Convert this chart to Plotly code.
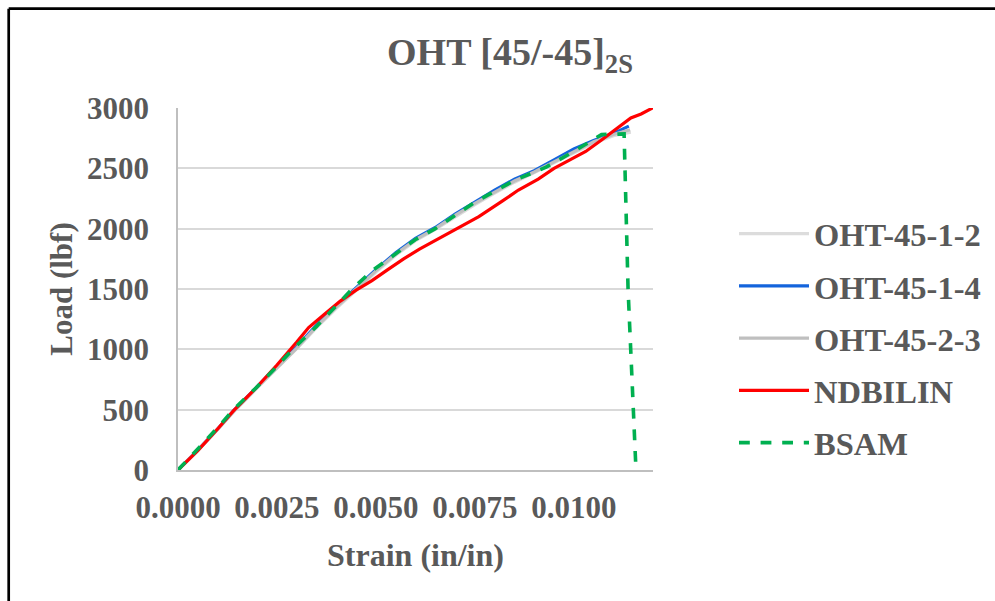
import plotly.graph_objects as go

# ---- data ----
strain_1_2 = [0, 0.0005, 0.0010, 0.0014, 0.0020, 0.0025, 0.0030, 0.0035, 0.0040, 0.0045, 0.0050,
              0.0055, 0.0060, 0.0065, 0.0070, 0.0075, 0.0080, 0.0085, 0.0090, 0.0095, 0.0100,
              0.0105, 0.0110, 0.01144]
load_1_2 = [0, 160, 335, 480, 680, 845, 1005, 1180, 1340, 1490, 1640,
            1780, 1900, 1995, 2100, 2200, 2295, 2385, 2465, 2545, 2630,
            2710, 2770, 2800]

strain_1_4 = [0, 0.0005, 0.0010, 0.0014, 0.0020, 0.0025, 0.0030, 0.0035, 0.0040, 0.0045, 0.0050,
              0.0055, 0.0060, 0.0065, 0.0070, 0.0075, 0.0080, 0.0085, 0.0090, 0.0095, 0.0100,
              0.0105, 0.0110, 0.01139]
load_1_4 = [0, 165, 340, 490, 690, 860, 1020, 1200, 1360, 1510, 1660,
            1800, 1920, 2010, 2120, 2220, 2320, 2410, 2480, 2570, 2660,
            2730, 2790, 2850]

strain_2_3 = [0, 0.0005, 0.0010, 0.0014, 0.0020, 0.0025, 0.0030, 0.0035, 0.0040, 0.0045, 0.0050,
              0.0055, 0.0060, 0.0065, 0.0070, 0.0075, 0.0080, 0.0085, 0.0090, 0.0095, 0.0100,
              0.0105, 0.0110, 0.01142]
load_2_3 = [0, 162, 338, 485, 685, 850, 1010, 1190, 1350, 1500, 1650,
            1790, 1910, 2000, 2110, 2210, 2305, 2395, 2470, 2555, 2640,
            2720, 2780, 2820]

strain_ndbilin = [0, 0.0005, 0.0010, 0.0014, 0.0020, 0.0025, 0.0030, 0.0033, 0.0037, 0.0041,
                  0.0045, 0.0049, 0.0053, 0.0057, 0.0061, 0.0066, 0.0071, 0.0076, 0.0082,
                  0.0086, 0.0091, 0.0095, 0.0099, 0.0103, 0.0107, 0.0111, 0.01144, 0.0117, 0.0121]
load_ndbilin = [0, 160, 340, 490, 690, 870, 1060, 1180, 1290, 1400,
                1490, 1570, 1660, 1750, 1830, 1920, 2010, 2100, 2230,
                2320, 2410, 2500, 2570, 2640, 2735, 2830, 2917, 2950, 3020]

strain_bsam = [0, 0.0005, 0.0010, 0.0014, 0.0020, 0.0025, 0.0029, 0.0035, 0.0040, 0.0044,
               0.0049, 0.0056, 0.0060, 0.0065, 0.0070, 0.0075, 0.0080, 0.0085, 0.0093,
               0.0100, 0.0107, 0.0112, 0.01127, 0.01137, 0.01157]
load_bsam = [0, 170, 350, 500, 690, 860, 1000, 1190, 1360, 1500,
             1650, 1820, 1910, 2000, 2110, 2220, 2310, 2400, 2510,
             2640, 2780, 2790, 2785, 1500, 0]

x_tickvals = [0, 0.0025, 0.005, 0.0075, 0.01]
x_ticktext = ["0.0000", "0.0025", "0.0050", "0.0075", "0.0100"]
y_tickvals = [0, 500, 1000, 1500, 2000, 2500, 3000]

series = [
    ("OHT-45-1-2", strain_1_2, load_1_2, "#dcdcdc", "solid"),
    ("OHT-45-1-4", strain_1_4, load_1_4, "#1464dc", "solid"),
    ("OHT-45-2-3", strain_2_3, load_2_3, "#bfbfbf", "solid"),
    ("NDBILIN", strain_ndbilin, load_ndbilin, "#ff0000", "solid"),
    ("BSAM", strain_bsam, load_bsam, "#00b050", "dash"),
]

FONT = "Liberation Serif, Times New Roman, serif"
TXT = "#595959"

fig = go.Figure()
for i, (name, xs, ys, col, dash) in enumerate(series):
    fig.add_trace(go.Scatter(
        x=xs, y=ys, mode="lines", name=name, legendgroup=f"g{i}",
        line=dict(color=col, width=3.2 if dash == "solid" else 3.6, dash=dash),
    ))

L, T, W, H = 178, 108, 475, 362
fig.update_layout(
    width=995, height=601,
    margin=dict(l=L, r=995 - L - W, t=T, b=601 - T - H, autoexpand=False),
    paper_bgcolor="white", plot_bgcolor="white",
    font=dict(family=FONT, color=TXT, size=31),
    title=dict(text="<b>OHT [45/-45]<sub>2S</sub></b>", x=510 / 995, xref="container",
               xanchor="center", y=1 - 52 / 601, yref="container", yanchor="middle",
               font=dict(family=FONT, size=38, color=TXT)),
    xaxis=dict(range=[0, 0.012], tickvals=x_tickvals, ticktext=x_ticktext,
               showgrid=False, zeroline=False, showline=True, linecolor="#bfbfbf", linewidth=1.5,
               ticks="", tickfont=dict(family=FONT, size=31, color=TXT, weight="bold"),
               ticklabelstandoff=9,
               title=dict(text="<b>Strain (in/in)</b>", standoff=20,
                          font=dict(family=FONT, size=32, color=TXT))),
    yaxis=dict(range=[0, 3000], tickvals=y_tickvals, showgrid=True, gridcolor="#d9d9d9",
               gridwidth=1.5, zeroline=False, showline=True, linecolor="#bfbfbf", linewidth=1.5,
               ticks="", tickfont=dict(family=FONT, size=31, color=TXT, weight="bold"),
               ticklabelstandoff=21,
               title=dict(text="<b>Load (lbf)</b>", standoff=5,
                          font=dict(family=FONT, size=31, color=TXT))),
    legend=dict(x=(734 - L) / W, xanchor="left", y=(470 - 206) / H, yanchor="top",
                font=dict(family=FONT, size=32.5, color=TXT, weight="bold"),
                tracegroupgap=7, itemwidth=70, bgcolor="rgba(0,0,0,0)"),
    showlegend=True,
)

# chart-area border (left and top edges visible in the reference crop)
bx = (8.7 - L) / W
by = (470 - 8.7) / H
fig.add_shape(type="line", xref="paper", yref="paper", x0=bx, x1=bx, y0=-2, y1=by,
              line=dict(color="black", width=2.7))
fig.add_shape(type="line", xref="paper", yref="paper", x0=bx, x1=3, y0=by, y1=by,
              line=dict(color="black", width=2.7))

fig.write_html("out.html")
